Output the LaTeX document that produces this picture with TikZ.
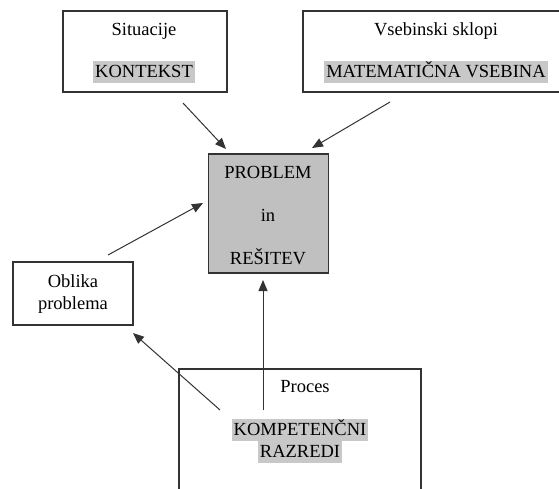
\documentclass[tikz,border=0pt]{standalone}
\usepackage{fontspec}
\setmainfont{Liberation Serif}
\usetikzlibrary{arrows.meta}
\definecolor{edge}{HTML}{333333}
\definecolor{mark}{HTML}{C8C8C8}
\definecolor{core}{HTML}{C0C0C0}
\begin{document}
\begin{tikzpicture}[x=1pt,y=-1pt,
  every node/.style={font=\fontsize{18.5}{22}\selectfont, text=black},
  frame/.style={draw=edge, line width=1.1pt, inner sep=0pt},
  label/.style={inner sep=0pt},
  hilite/.style={fill=mark, inner xsep=2pt, inner ysep=1pt, text height=15pt, text depth=5pt},
  link/.style={draw=edge, line width=1pt, -{Triangle[length=11pt,width=9pt]}}
]
\useasboundingbox (0,0) rectangle (559,488);

% boxes
\node[frame, minimum width=164pt, minimum height=81pt] (ctx) at (145,51.5) {};
\node[frame, minimum width=259pt, minimum height=81pt] (math) at (432.5,51.5) {};
\node[frame, fill=core, minimum width=120pt, minimum height=119pt] (prob) at (268.5,213.5) {};
\node[frame, minimum width=120pt, minimum height=63pt] (form) at (73,293.5) {};
\node[frame, minimum width=242pt, minimum height=135pt] (proc) at (300,436.5) {};

% texts
\node[label] (ctxT) at (144,31) {Situacije};
\node[hilite] (ctxH) at (144,72) {KONTEKST};
\node[label] (mathT) at (436,31) {Vsebinski sklopi};
\node[hilite] (mathH) at (436,72) {MATEMATIČNA VSEBINA};
\node[label] (probA) at (268,172) {PROBLEM};
\node[label] (probB) at (268,215) {in};
\node[label] (probC) at (268,257) {REŠITEV};
\node[label, align=center] (formT) at (73,294) {Oblika\\problema};
\node[label] (procT) at (305,387) {Proces};
\node[hilite] (procA) at (300,430) {KOMPETENČNI};
\node[hilite] (procB) at (300,452) {RAZREDI};

% connector ends
\coordinate (s1) at (183,103);
\coordinate (e1) at (226,149);
\coordinate (s2) at (390,102);
\coordinate (e2) at (312,148);
\coordinate (s3) at (108,255);
\coordinate (e3) at (203,203);
\coordinate (s4) at (220,410);
\coordinate (e4) at (133,333);
\coordinate (s5) at (263,410);
\coordinate (e5) at (263,280);

% connectors
\draw[link] (s1) -- (e1);
\draw[link] (s2) -- (e2);
\draw[link] (s3) -- (e3);
\draw[link] (s4) -- (e4);
\draw[link] (s5) -- (e5);
\end{tikzpicture}
\end{document}
